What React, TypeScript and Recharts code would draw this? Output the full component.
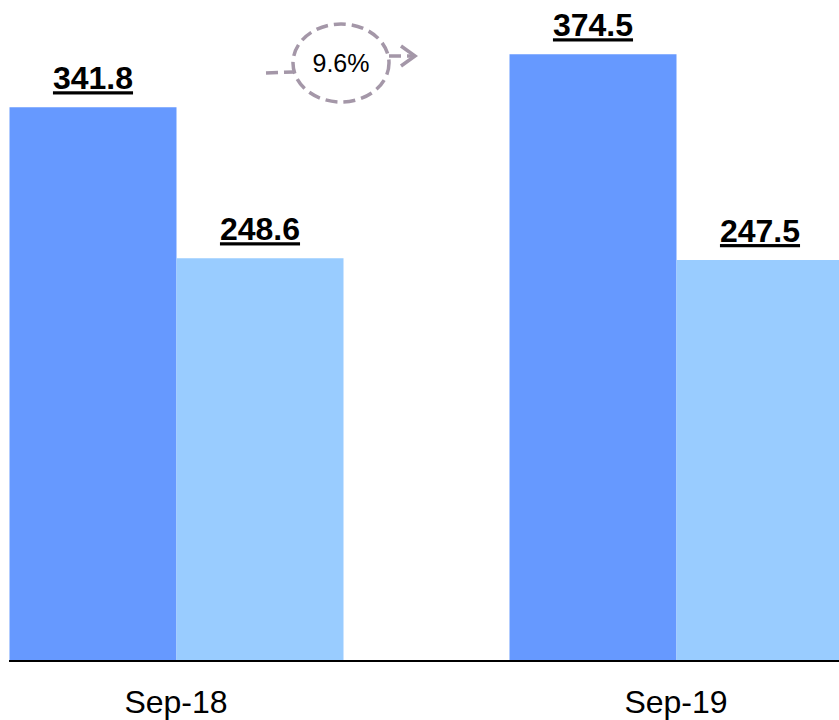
import React from 'react'
import { BarChart, Bar, XAxis, YAxis, LabelList } from 'recharts'

const categories = ['Sep-18', 'Sep-19']
const seriesA = [341.8, 374.5]
const seriesB = [248.6, 247.5]
const growthLabel = '9.6%'

const data = categories.map((name, i) => ({ name, a: seriesA[i], b: seriesB[i] }))

const FONT = '"Liberation Sans", Arial, sans-serif'

const ValueLabel = (props: any) => {
    const { x, y, width, value } = props
    return (
        <text
            x={x + width / 2}
            y={y - 18}
            textAnchor="middle"
            fontFamily={FONT}
            fontWeight={700}
            fontSize={32}
            fill="#000"
            textDecoration="underline"
        >
            {Number(value).toFixed(1)}
        </text>
    )
}

// dashed "growth" bubble between the two groups
const GrowthBubble = () => {
    const stroke = '#a497a8'
    return (
        <svg width={839} height={720} style={{ position: 'absolute', left: 0, top: 0, pointerEvents: 'none' }}>
            <g fill="none" stroke={stroke} strokeWidth={3.5} strokeDasharray="12 6">
                <ellipse cx={341} cy={63} rx={48} ry={39} />
                <line x1={266} y1={73} x2={293} y2={72} />
                <line x1={389} y1={56} x2={414} y2={56} />
            </g>
            <polyline points="401,46 415,56 401,66" fill="none" stroke={stroke} strokeWidth={3.5} />
            <text x={341} y={72} textAnchor="middle" fontFamily={FONT} fontSize={25} fill="#000">
                {growthLabel}
            </text>
        </svg>
    )
}

export default function App() {
    return (
        <div style={{ position: 'absolute', left: 0, top: 0, width: 839, height: 720, background: '#fff' }}>
            <BarChart
                width={839}
                height={720}
                data={data}
                margin={{ top: 13, right: 0, left: 9, bottom: 0 }}
                barGap={0}
                barCategoryGap="16.7%"
            >
                <XAxis
                    dataKey="name"
                    height={59}
                    padding={{ left: -83, right: -87 }}
                    axisLine={{ stroke: '#000', strokeWidth: 2 }}
                    tickLine={false}
                    tickSize={0}
                    tickMargin={29}
                    tick={{ fill: '#000', fontSize: 32, fontFamily: FONT }}
                />
                <YAxis hide domain={[0, 400]} />
                <Bar dataKey="a" fill="#6699ff" isAnimationActive={false}>
                    <LabelList dataKey="a" content={<ValueLabel />} />
                </Bar>
                <Bar dataKey="b" fill="#99ccff" isAnimationActive={false}>
                    <LabelList dataKey="b" content={<ValueLabel />} />
                </Bar>
            </BarChart>
            <GrowthBubble />
        </div>
    )
}
